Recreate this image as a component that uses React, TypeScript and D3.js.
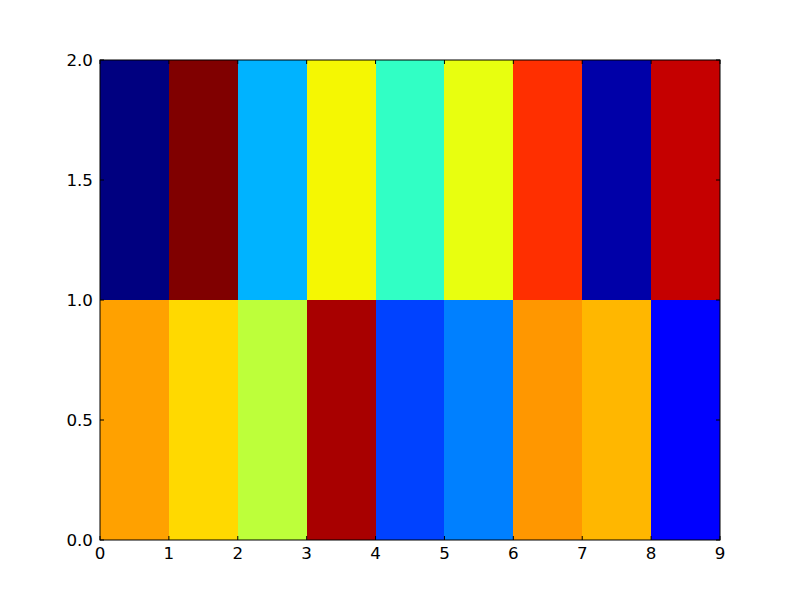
import { useMemo } from "react";
import * as d3 from "d3";

// cell values (0..1) mapped through the jet colormap, row 0 is y 0..1
const bottomRow = [0.74, 0.68, 0.58, 0.965, 0.19, 0.25, 0.75, 0.716, 0.12];
const topRow = [0.0, 1.0, 0.3, 0.648, 0.41, 0.632, 0.86, 0.035, 0.94];
const xTicks = [0, 1, 2, 3, 4, 5, 6, 7, 8, 9];
const yTicks = [0, 0.5, 1, 1.5, 2];

const jetSeg = {
  r: [[0, 0], [0.35, 0], [0.66, 1], [0.89, 1], [1, 0.5]],
  g: [[0, 0], [0.125, 0], [0.375, 1], [0.64, 1], [0.91, 0], [1, 0]],
  b: [[0, 0.5], [0.11, 1], [0.34, 1], [0.65, 0], [1, 0]],
};

const channel = (pts, v) => {
  const s = d3.scaleLinear().domain(pts.map((p) => p[0])).range(pts.map((p) => p[1])).clamp(true);
  return Math.round(s(v) * 255);
};

const jet = (v) => `rgb(${channel(jetSeg.r, v)},${channel(jetSeg.g, v)},${channel(jetSeg.b, v)})`;

export default function App() {
  const width = 800;
  const height = 600;
  const left = 100, right = 720, top = 60, bottom = 540;

  const x = d3.scaleLinear().domain([0, 9]).range([left, right]);
  const y = d3.scaleLinear().domain([0, 2]).range([bottom, top]);

  const cells = useMemo(() => {
    const out = [];
    [bottomRow, topRow].forEach((row, r) =>
      row.forEach((v, c) => out.push({ r, c, v }))
    );
    return out;
  }, []);

  const font = { fontFamily: "DejaVu Sans", fontSize: 16.7 };

  return (
    <svg width={width} height={height} style={{ position: "absolute", left: 0, top: 0 }}>
      <rect width={width} height={height} fill="#fff" />
      {cells.map((d) => (
        <rect
          key={`${d.r}-${d.c}`}
          x={x(d.c)}
          y={y(d.r + 1)}
          width={x(d.c + 1) - x(d.c)}
          height={y(d.r) - y(d.r + 1)}
          fill={jet(d.v)}
          shapeRendering="crispEdges"
        />
      ))}
      <rect x={left} y={top} width={right - left} height={bottom - top} fill="none" stroke="#000" strokeWidth={1} />
      {xTicks.map((t) => (
        <g key={`x${t}`}>
          <line x1={x(t)} x2={x(t)} y1={bottom} y2={bottom - 4} stroke="#000" />
          <line x1={x(t)} x2={x(t)} y1={top} y2={top + 4} stroke="#000" />
          <text x={x(t)} y={bottom + 19} textAnchor="middle" {...font}>{t}</text>
        </g>
      ))}
      {yTicks.map((t) => (
        <g key={`y${t}`}>
          <line x1={left} x2={left + 4} y1={y(t)} y2={y(t)} stroke="#000" />
          <line x1={right} x2={right - 4} y1={y(t)} y2={y(t)} stroke="#000" />
          <text x={left - 7} y={y(t) + 6.2} textAnchor="end" {...font}>{t.toFixed(1)}</text>
        </g>
      ))}
    </svg>
  );
}
